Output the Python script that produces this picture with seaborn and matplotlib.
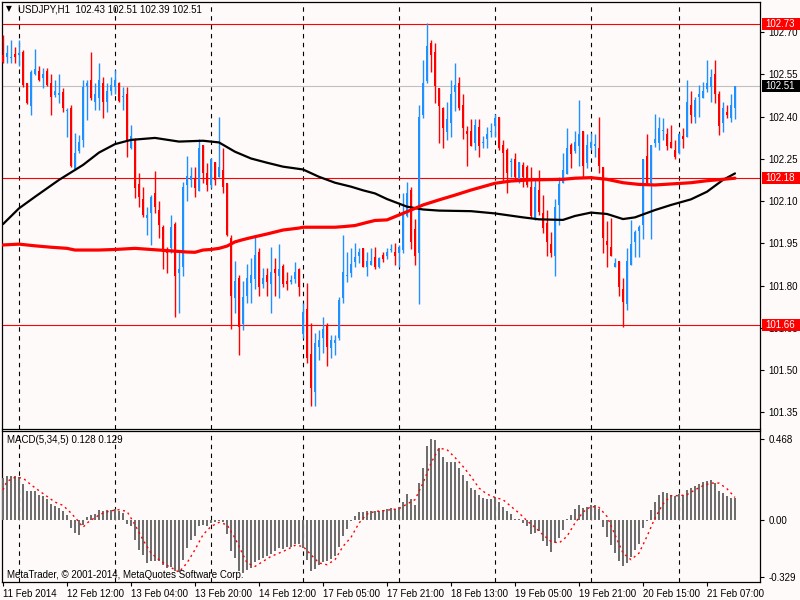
import matplotlib
matplotlib.use("Agg")
import matplotlib.pyplot as plt
import matplotlib.transforms as mtransforms
from matplotlib.patches import Rectangle
import numpy as np
import pandas as pd
import seaborn as sns

# USDJPY H1 candles (bar 0 = 11 Feb 20:00)
open_ = [102.618, 102.610, 102.608, 102.622, 102.620, 102.630, 102.518, 102.437, 102.551, 102.563,
         102.537, 102.563, 102.520, 102.476, 102.478, 102.488, 102.418, 102.429, 102.212, 102.279,
         102.317, 102.508, 102.530, 102.453, 102.465, 102.520, 102.453, 102.492, 102.504, 102.518,
         102.470, 102.480, 102.287, 102.319, 102.160, 102.106, 102.038, 102.056, 102.127, 102.068,
         102.007, 101.930, 101.932, 102.019, 101.846, 101.867, 102.157, 102.175, 102.177, 102.137,
         102.299, 102.198, 102.157, 102.237, 102.186, 102.210, 102.165, 101.967, 101.757, 101.825,
         101.663, 101.763, 101.810, 101.822, 101.920, 101.805, 101.837, 101.805, 101.858, 101.834,
         101.869, 101.816, 101.814, 101.822, 101.858, 101.627, 101.716, 101.556, 101.423, 101.583,
         101.612, 101.660, 101.577, 101.595, 101.612, 101.757, 101.834, 101.846, 101.885, 101.905,
         101.932, 101.867, 101.873, 101.900, 101.867, 101.908, 101.905, 101.926, 101.920, 101.917,
         101.926, 102.047, 102.139, 102.000, 101.917, 102.405, 102.527, 102.662, 102.630, 102.500,
         102.429, 102.346, 102.378, 102.488, 102.520, 102.441, 102.349, 102.349, 102.307, 102.364,
         102.305, 102.319, 102.346, 102.366, 102.397, 102.299, 102.281, 102.237, 102.248, 102.175,
         102.228, 102.222, 102.151, 102.035, 102.139, 102.056, 102.021, 101.947, 101.905, 102.086,
         102.165, 102.196, 102.299, 102.279, 102.297, 102.349, 102.236, 102.287, 102.297, 102.287,
         102.222, 101.959, 101.938, 101.867, 101.887, 101.786, 101.734, 101.873, 101.956, 101.995,
         102.015, 102.260, 102.165, 102.307, 102.307, 102.347, 102.338, 102.311, 102.281, 102.269,
         102.331, 102.329, 102.441, 102.399, 102.468, 102.465, 102.497, 102.504, 102.551, 102.480,
         102.378, 102.417, 102.394, 102.430]

high_ = [102.689, 102.654, 102.672, 102.648, 102.672, 102.635, 102.520, 102.565, 102.638, 102.579,
         102.571, 102.571, 102.551, 102.530, 102.551, 102.500, 102.429, 102.441, 102.340, 102.335,
         102.530, 102.530, 102.630, 102.518, 102.591, 102.541, 102.518, 102.541, 102.565, 102.524,
         102.504, 102.504, 102.370, 102.322, 102.198, 102.149, 102.080, 102.121, 102.208, 102.101,
         102.015, 101.938, 102.050, 102.027, 101.926, 102.169, 102.260, 102.220, 102.222, 102.319,
         102.299, 102.234, 102.251, 102.237, 102.400, 102.287, 102.165, 101.979, 101.887, 101.837,
         101.816, 101.875, 101.899, 101.979, 101.932, 101.861, 101.861, 101.938, 101.899, 101.946,
         101.875, 101.849, 101.837, 101.884, 101.861, 101.739, 101.810, 101.668, 101.630, 101.642,
         101.689, 101.668, 101.624, 101.624, 101.760, 101.979, 101.920, 101.932, 101.950, 101.932,
         101.932, 101.920, 101.932, 101.938, 101.902, 101.920, 101.932, 101.946, 101.950, 101.944,
         102.127, 102.169, 102.151, 102.035, 102.441, 102.600, 102.731, 102.672, 102.662, 102.500,
         102.435, 102.453, 102.530, 102.591, 102.539, 102.480, 102.366, 102.391, 102.390, 102.391,
         102.331, 102.364, 102.376, 102.408, 102.397, 102.317, 102.287, 102.251, 102.269, 102.240,
         102.240, 102.228, 102.222, 102.180, 102.210, 102.121, 102.068, 101.991, 102.106, 102.186,
         102.270, 102.358, 102.305, 102.349, 102.459, 102.349, 102.338, 102.340, 102.338, 102.399,
         102.222, 102.030, 102.038, 101.899, 101.887, 101.825, 101.932, 102.033, 101.997, 102.015,
         102.248, 102.338, 102.299, 102.409, 102.399, 102.394, 102.360, 102.370, 102.317, 102.340,
         102.358, 102.530, 102.492, 102.470, 102.512, 102.524, 102.601, 102.567, 102.601, 102.492,
         102.453, 102.441, 102.480, 102.510]

low_ = [102.589, 102.589, 102.589, 102.589, 102.580, 102.506, 102.445, 102.405, 102.547, 102.527,
        102.500, 102.508, 102.405, 102.470, 102.447, 102.417, 102.328, 102.222, 102.210, 102.269,
        102.293, 102.388, 102.459, 102.423, 102.423, 102.394, 102.417, 102.476, 102.480, 102.453,
        102.423, 102.257, 102.283, 102.110, 102.080, 102.044, 101.979, 101.944, 102.056, 101.967,
        101.857, 101.845, 101.914, 101.687, 101.704, 101.834, 102.100, 102.151, 102.116, 102.137,
        102.165, 102.137, 102.145, 102.157, 102.186, 102.127, 101.976, 101.644, 101.704, 101.553,
        101.642, 101.737, 101.737, 101.786, 101.763, 101.790, 101.763, 101.704, 101.763, 101.757,
        101.796, 101.784, 101.805, 101.808, 101.763, 101.615, 101.524, 101.372, 101.372, 101.536,
        101.559, 101.514, 101.541, 101.553, 101.606, 101.737, 101.814, 101.831, 101.867, 101.879,
        101.867, 101.834, 101.873, 101.857, 101.861, 101.885, 101.893, 101.920, 101.873, 101.867,
        101.917, 102.044, 101.928, 101.873, 101.734, 102.393, 102.518, 102.559, 102.449, 102.307,
        102.287, 102.317, 102.328, 102.421, 102.423, 102.319, 102.225, 102.297, 102.281, 102.257,
        102.287, 102.287, 102.328, 102.328, 102.281, 102.169, 102.127, 102.186, 102.175, 102.163,
        102.151, 102.151, 102.038, 102.033, 102.050, 101.985, 101.905, 101.902, 101.834, 102.015,
        102.163, 102.196, 102.216, 102.269, 102.224, 102.186, 102.216, 102.281, 102.257, 102.198,
        101.917, 101.867, 101.905, 101.867, 101.763, 101.654, 101.713, 101.873, 101.902, 101.902,
        101.964, 102.157, 101.964, 102.293, 102.281, 102.317, 102.281, 102.287, 102.248, 102.267,
        102.287, 102.326, 102.378, 102.378, 102.397, 102.465, 102.488, 102.453, 102.449, 102.334,
        102.346, 102.394, 102.382, 102.390]

close_ = [102.595, 102.624, 102.612, 102.610, 102.625, 102.512, 102.449, 102.559, 102.567, 102.530,
          102.551, 102.512, 102.468, 102.490, 102.480, 102.429, 102.420, 102.224, 102.269, 102.311,
          102.504, 102.518, 102.465, 102.480, 102.530, 102.453, 102.490, 102.512, 102.530, 102.456,
          102.472, 102.311, 102.331, 102.145, 102.115, 102.050, 102.050, 102.115, 102.080, 102.015,
          101.920, 101.914, 102.007, 101.834, 101.857, 102.149, 102.189, 102.189, 102.145, 102.287,
          102.198, 102.157, 102.248, 102.175, 102.222, 102.149, 101.979, 101.763, 101.816, 101.654,
          101.760, 101.828, 101.837, 101.908, 101.794, 101.825, 101.814, 101.849, 101.846, 101.858,
          101.805, 101.805, 101.816, 101.849, 101.796, 101.707, 101.544, 101.435, 101.595, 101.607,
          101.644, 101.583, 101.607, 101.607, 101.749, 101.849, 101.837, 101.876, 101.900, 101.920,
          101.867, 101.888, 101.888, 101.867, 101.896, 101.893, 101.920, 101.928, 101.905, 101.938,
          102.056, 102.130, 101.956, 101.905, 102.400, 102.520, 102.650, 102.618, 102.508, 102.437,
          102.358, 102.390, 102.480, 102.512, 102.429, 102.358, 102.337, 102.297, 102.370, 102.297,
          102.307, 102.338, 102.349, 102.393, 102.287, 102.269, 102.198, 102.240, 102.186, 102.237,
          102.186, 102.157, 102.047, 102.151, 102.062, 102.003, 101.956, 101.914, 102.080, 102.160,
          102.210, 102.287, 102.267, 102.311, 102.338, 102.224, 102.299, 102.311, 102.299, 102.224,
          101.967, 101.944, 101.905, 101.879, 101.796, 101.743, 101.887, 101.947, 101.989, 102.007,
          102.248, 102.163, 102.299, 102.319, 102.360, 102.349, 102.297, 102.287, 102.257, 102.337,
          102.319, 102.453, 102.405, 102.459, 102.480, 102.492, 102.518, 102.539, 102.480, 102.366,
          102.429, 102.405, 102.441, 102.510]

# moving averages (bar index, value)
ma_black_bar = [0, 4, 8, 14, 20, 24, 28, 32, 38, 44, 50, 54, 58, 62, 66, 70, 75, 79, 83, 87,
                90, 93, 96, 101, 105, 109, 117, 123, 130, 134, 140, 143, 147, 151, 155, 158,
                163, 167, 172, 176, 180, 183]
ma_black_val = [102.018, 102.074, 102.115, 102.175, 102.228, 102.272, 102.302, 102.317, 102.324,
                102.311, 102.314, 102.308, 102.275, 102.251, 102.236, 102.222, 102.212, 102.186,
                102.165, 102.151, 102.138, 102.127, 102.107, 102.080, 102.070, 102.066, 102.064,
                102.056, 102.042, 102.035, 102.033, 102.047, 102.059, 102.054, 102.036, 102.042,
                102.068, 102.086, 102.106, 102.133, 102.175, 102.198]

ma_red_bar = [0, 4, 8, 12, 16, 18, 24, 28, 33, 37, 41, 46, 48, 50, 52, 54, 56, 58, 60, 62, 66,
              70, 74, 75, 83, 85, 88, 91, 93, 96, 101, 105, 109, 113, 117, 123, 127, 132, 140,
              143, 147, 151, 155, 159, 163, 172, 176, 180, 183]
ma_red_val = [101.944, 101.947, 101.941, 101.936, 101.932, 101.926, 101.926, 101.928, 101.932,
              101.928, 101.924, 101.919, 101.918, 101.926, 101.928, 101.932, 101.940, 101.955,
              101.963, 101.970, 101.983, 101.997, 102.004, 102.007, 102.007, 102.009, 102.013,
              102.024, 102.031, 102.033, 102.062, 102.086, 102.104, 102.121, 102.139, 102.163,
              102.171, 102.175, 102.177, 102.181, 102.183, 102.177, 102.165, 102.159, 102.157,
              102.165, 102.172, 102.177, 102.181]

# MACD(5,34,5) main values, one per bar
macd = [0.241, 0.254, 0.254, 0.254, 0.250, 0.206, 0.164, 0.164, 0.164, 0.145,
        0.139, 0.121, 0.091, 0.081, 0.067, 0.048, 0.025, -0.048, -0.077, -0.087,
        -0.029, 0.015, 0.025, 0.033, 0.058, 0.048, 0.054, 0.058, 0.062, 0.048,
        0.039, -0.023, -0.039, -0.116, -0.173, -0.202, -0.250, -0.237, -0.237, -0.241,
        -0.260, -0.279, -0.276, -0.299, -0.303, -0.231, -0.164, -0.116, -0.096, -0.039,
        -0.029, -0.035, -0.019, -0.013, -0.010, -0.013, -0.083, -0.179, -0.222, -0.299,
        -0.308, -0.289, -0.279, -0.245, -0.231, -0.222, -0.212, -0.198, -0.179, -0.164,
        -0.168, -0.160, -0.160, -0.141, -0.141, -0.164, -0.231, -0.295, -0.283, -0.260,
        -0.245, -0.237, -0.225, -0.212, -0.160, -0.096, -0.052, -0.010, 0.019, 0.044,
        0.044, 0.048, 0.048, 0.048, 0.052, 0.056, 0.064, 0.067, 0.064, 0.071,
        0.102, 0.148, 0.121, 0.087, 0.212, 0.302, 0.424, 0.468, 0.462, 0.414,
        0.362, 0.333, 0.333, 0.333, 0.302, 0.260, 0.225, 0.183, 0.171, 0.145,
        0.125, 0.121, 0.121, 0.129, 0.102, 0.071, 0.052, 0.033, 0.002, 0.002,
        -0.019, -0.035, -0.083, -0.077, -0.064, -0.125, -0.154, -0.187, -0.135, -0.106,
        -0.058, 0.002, 0.025, 0.062, 0.083, 0.067, 0.073, 0.083, 0.083, 0.062,
        -0.042, -0.102, -0.148, -0.193, -0.237, -0.270, -0.250, -0.218, -0.173, -0.141,
        -0.048, -0.010, 0.058, 0.102, 0.145, 0.160, 0.154, 0.145, 0.135, 0.148,
        0.141, 0.173, 0.183, 0.193, 0.206, 0.216, 0.222, 0.231, 0.212, 0.168,
        0.154, 0.135, 0.125, 0.128]

# signal line (bar index, value)
sig_bar = [0, 1, 3, 5, 7, 9, 11, 13, 15, 17, 19, 20, 21, 23, 25, 27, 29, 31, 33, 35, 37, 39,
           41, 43, 44, 46, 48, 50, 52, 54, 56, 58, 60, 61, 63, 65, 67, 69, 71, 73, 75, 77, 79,
           81, 83, 85, 87, 89, 91, 93, 95, 97, 99, 101, 103, 105, 107, 109, 111, 113, 115, 117,
           119, 121, 123, 125, 127, 129, 131, 133, 135, 137, 139, 141, 143, 145, 147, 149, 151,
           153, 155, 157, 159, 161, 163, 165, 167, 169, 171, 173, 175, 177, 179, 181, 183]
sig_val = [0.173, 0.222, 0.245, 0.241, 0.202, 0.168, 0.135, 0.102, 0.083, 0.039, -0.013, -0.044,
           -0.019, 0.013, 0.039, 0.052, 0.058, 0.048, -0.029, -0.116, -0.193, -0.231, -0.264,
           -0.289, -0.303, -0.250, -0.173, -0.087, -0.039, -0.015, -0.029, -0.106, -0.202,
           -0.250, -0.270, -0.241, -0.212, -0.193, -0.173, -0.148, -0.154, -0.202, -0.250,
           -0.260, -0.231, -0.154, -0.102, -0.019, 0.033, 0.048, 0.052, 0.058, 0.064, 0.091,
           0.116, 0.212, 0.328, 0.414, 0.405, 0.360, 0.308, 0.250, 0.183, 0.148, 0.129, 0.116,
           0.077, 0.039, -0.006, -0.044, -0.087, -0.125, -0.135, -0.096, -0.019, 0.044, 0.077,
           0.071, 0.019, -0.087, -0.193, -0.231, -0.193, -0.096, 0.010, 0.091, 0.139, 0.139,
           0.145, 0.173, 0.197, 0.212, 0.212, 0.179, 0.129]

price_ticks = [102.70, 102.55, 102.40, 102.25, 102.10, 101.95, 101.80, 101.65, 101.50, 101.35]
levels = [102.73, 102.18, 101.66]
bid = 102.51
day_bars = [4, 28, 52, 75, 99, 123, 147, 169]
tick_bars = [0, 16, 32, 48, 64, 80, 96, 112, 128, 144, 160, 176]
tick_labels = ["11 Feb 2014", "12 Feb 12:00", "13 Feb 04:00", "13 Feb 20:00", "14 Feb 12:00",
               "17 Feb 05:00", "17 Feb 21:00", "18 Feb 13:00", "19 Feb 05:00", "19 Feb 21:00",
               "20 Feb 15:00", "21 Feb 07:00"]
macd_ticks = [0.468, 0.0, -0.329]
macd_tick_labels = ["0.468", "0.00", "-0.329"]

sns.set_theme(style="white")
plt.rcParams["font.family"] = ["Liberation Sans", "DejaVu Sans"]
plt.rcParams["font.size"] = 7

BG = "#fffafa"
BULL = "#1e90ff"
BEAR = "#ff0000"
W, H = 800, 600

fig = plt.figure(figsize=(8, 6), dpi=100)
fig.patch.set_facecolor(BG)
ax = fig.add_axes([2 / W, 1 - 428.5 / H, 758 / W, 426.5 / H])
ax2 = fig.add_axes([2 / W, 1 - 582 / H, 758 / W, 151.5 / H])

df = pd.DataFrame({"open": open_, "high": high_, "low": low_, "close": close_})
df["bar"] = np.arange(len(df))
colors = np.where(df["close"] >= df["open"], BULL, BEAR)

# candles
ax.vlines(df["bar"], df["low"], df["high"], colors=colors, lw=1.0, zorder=3)
body_lo = df[["open", "close"]].min(axis=1)
body_h = (df["close"] - df["open"]).abs().clip(lower=0.004)
ax.bar(df["bar"], body_h, bottom=body_lo, width=0.72, color=colors, linewidth=0, zorder=4)

# moving averages
sns.lineplot(x=ma_black_bar, y=ma_black_val, ax=ax, color="black", linewidth=1.6,
             legend=False, zorder=5)
sns.lineplot(x=ma_red_bar, y=ma_red_val, ax=ax, color="red", linewidth=2.3,
             legend=False, zorder=6)

# horizontal levels
for lv in levels:
    ax.axhline(lv, color="red", lw=0.8, zorder=2)
ax.axhline(bid, color="#c0c0c0", lw=0.8, zorder=2)

# day separators
for a in (ax, ax2):
    for d in day_bars:
        a.axvline(d, color="black", lw=0.8, ls=(0, (4, 4)), zorder=1)

# MACD panel
ax2.bar(np.arange(len(macd)), macd, width=0.55, color="#6e6e6e", linewidth=0, zorder=3)
sns.lineplot(x=sig_bar, y=sig_val, ax=ax2, color="red", linewidth=1.0,
             linestyle=(0, (1.5, 2.5)), legend=False, zorder=4)

for a in (ax, ax2):
    a.set_facecolor(BG)
    a.set_xlim(-0.25, 189.25)
    a.set_xlabel("")
    a.set_ylabel("")
    for s in a.spines.values():
        s.set_color("black")
        s.set_linewidth(0.9)

ax.set_ylim(101.2925, 102.8065)
ax.yaxis.tick_right()
ax.set_yticks(price_ticks)
ax.set_yticklabels([f"{t:.2f}" for t in price_ticks])
ax.tick_params(axis="y", right=True, left=False, direction="out", length=3, width=0.8,
               pad=3, labelsize=7, labelcolor="black", color="black")
ax.tick_params(axis="x", bottom=False, labelbottom=False)

ax2.set_ylim(-0.360, 0.516)
ax2.yaxis.tick_right()
ax2.set_yticks(macd_ticks)
ax2.set_yticklabels(macd_tick_labels)
ax2.tick_params(axis="y", right=True, left=False, direction="out", length=3, width=0.8,
                pad=3, labelsize=7, labelcolor="black", color="black")
ax2.set_xticks(tick_bars)
ax2.set_xticklabels(tick_labels, ha="left")
ax2.tick_params(axis="x", bottom=True, direction="out", length=3, width=0.8, pad=2,
                labelsize=7, labelcolor="black", color="black")

# price boxes on the right scale
trans = mtransforms.blended_transform_factory(ax.transAxes, ax.transData)
box_w = 38 / 758
box_h = 12 / 281.7
for val, fc in [(levels[0], "red"), (bid, "black"), (levels[1], "red"), (levels[2], "red")]:
    ax.add_patch(Rectangle((1.0026, val - box_h / 2), box_w, box_h, transform=trans,
                           facecolor=fc, edgecolor="none", clip_on=False, zorder=10))
    ax.text(1.0075, val, f"{val:.2f}", transform=trans, ha="left", va="center",
            color="white", fontsize=7, zorder=11, clip_on=False)

fig.text(9 / W, 1 - 9 / H, "\u25bc", fontsize=5.5, ha="center", va="center", color="black",
         family=["DejaVu Sans"])
fig.text(18 / W, 1 - 10 / H, "USDJPY,H1  102.43 102.51 102.39 102.51", fontsize=7,
         ha="left", va="center", color="black")
fig.text(7 / W, 1 - 440 / H, "MACD(5,34,5) 0.128 0.129", fontsize=7, ha="left",
         va="center", color="black")
fig.text(7 / W, 1 - 575 / H, "MetaTrader, \u00a9 2001-2014, MetaQuotes Software Corp.",
         fontsize=7, ha="left", va="center", color="black")

fig.savefig("out.png", dpi=100, facecolor=BG)
